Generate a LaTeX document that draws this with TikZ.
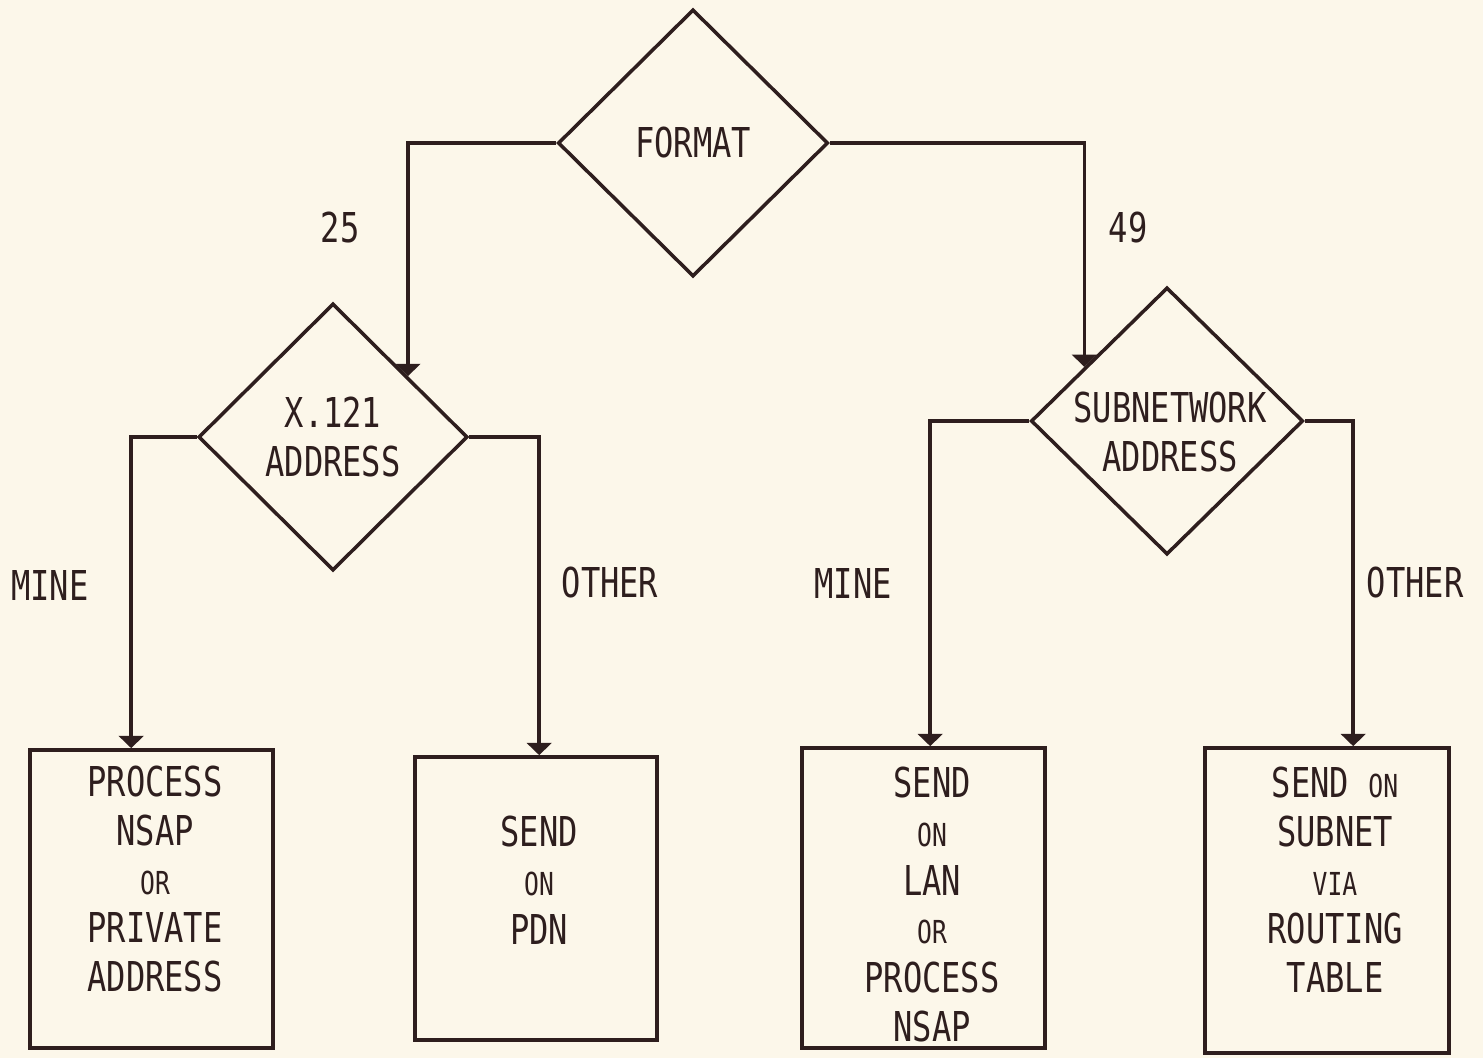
\documentclass[tikz,border=0pt]{standalone}
\usepackage{fontspec}
\setmainfont[FakeStretch=0.78]{DejaVu Sans Mono}
\usetikzlibrary{shapes.geometric,arrows.meta,calc,positioning}
\definecolor{paper}{HTML}{FCF7EA}
\definecolor{ink}{HTML}{2E1E1E}
\tikzset{
  decision/.style={diamond, draw=ink, line width=1pt, inner sep=0pt},
  action/.style={rectangle, draw=ink, line width=1pt, inner sep=0pt},
  flow/.style={draw=ink, line width=1pt, -{Triangle[width=7pt,length=3.5pt]}},
  lbl/.style={text=ink, font=\fontsize{11.7}{13.9}\selectfont, align=center, inner sep=0pt},
}
\newcommand{\sm}[1]{{\fontsize{9}{13.9}\selectfont #1}}
\begin{document}
\begin{tikzpicture}[x=0.01cm, y=-0.01cm]
\fill[paper] (0,0) rectangle (1483,1058);
\useasboundingbox (0,0) rectangle (1483,1058);
% decisions
\node[decision, lbl, minimum width=2.7cm, minimum height=2.67cm] (fmt) at (693,143) {FORMAT};
\node[decision, lbl, minimum width=2.69cm, minimum height=2.67cm] (x121) at (333,437) {X.121\\ADDRESS};
\node[decision, minimum width=2.72cm, minimum height=2.67cm] (subnet) at (1167,421) {};
\node[lbl] (subnettxt) at (1170,432) {SUBNETWORK\\ADDRESS};
% actions
\node[action, minimum width=2.43cm, minimum height=2.98cm] (proc) at (151.5,899) {};
\node[action, minimum width=2.42cm, minimum height=2.83cm] (pdn) at (536,898.5) {};
\node[action, minimum width=2.43cm, minimum height=3.0cm] (lan) at (923.5,898) {};
\node[action, minimum width=2.44cm, minimum height=3.05cm] (route) at (1327,900.5) {};
\node[lbl, anchor=north] (proctxt) at (155,765) {PROCESS\\NSAP\\\sm{OR}\\PRIVATE\\ADDRESS};
\node[lbl, anchor=north] (pdntxt) at (539,815) {SEND\\\sm{ON}\\PDN};
\node[lbl, anchor=north] (lantxt) at (932,766) {SEND\\\sm{ON}\\LAN\\\sm{OR}\\PROCESS\\NSAP};
\node[lbl, anchor=north] (routetxt) at (1335,766) {SEND \sm{ON}\\SUBNET\\\sm{VIA}\\ROUTING\\TABLE};
% connectors
\draw[flow] (fmt.west) -| ($(x121.north)!0.55!(x121.east)$);
\draw[flow] (fmt.east) -| ($(subnet.north)!0.6!(subnet.west)$);
\draw[flow] (x121.west) -| ($(proc.north west)+(103,0)$);
\draw[flow] (x121.east) -| ($(pdn.north west)+(126,0)$);
\draw[flow] (subnet.west) -| ($(lan.north west)+(130,0)$);
\draw[flow] (subnet.east) -| ($(route.north west)+(150,0)$);
% branch labels
\node[lbl] (l25) at (340,228) {25};
\node[lbl] (l49) at (1128,228) {49};
\node[lbl] (mineL) at (50,585) {MINE};
\node[lbl] (otherL) at (610,583) {OTHER};
\node[lbl] (mineR) at (853,583) {MINE};
\node[lbl] (otherR) at (1415,583) {OTHER};
\end{tikzpicture}
\end{document}
